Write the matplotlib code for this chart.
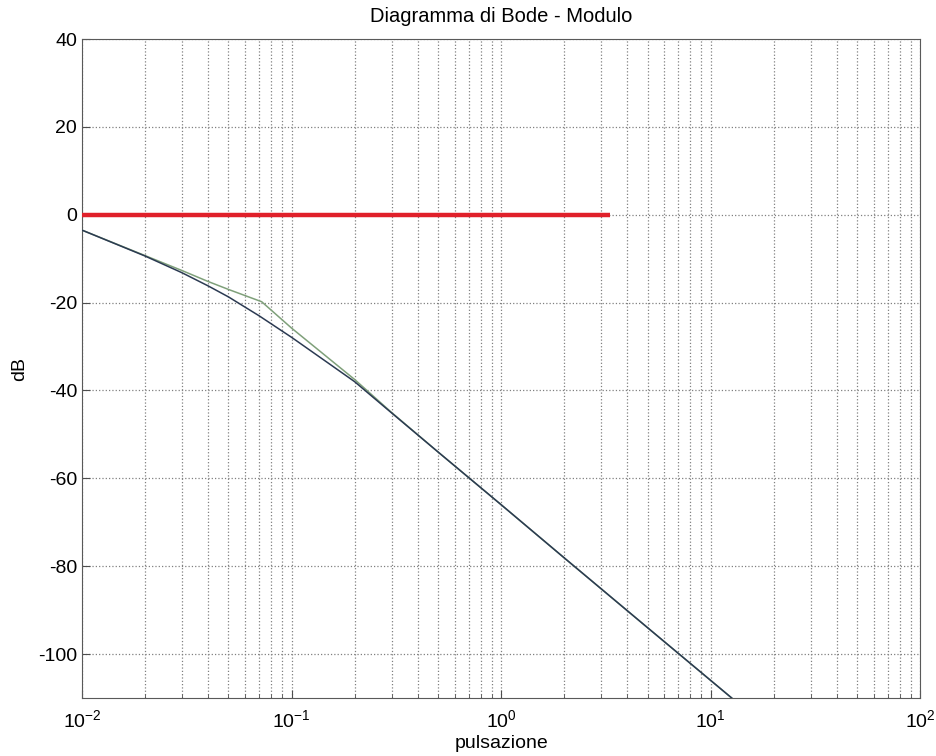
import numpy as np
import matplotlib
matplotlib.use('Agg')
import matplotlib.pyplot as plt
from matplotlib.ticker import LogLocator, NullFormatter

plt.rcParams['font.family'] = ['Liberation Sans', 'DejaVu Sans']
plt.rcParams['axes.unicode_minus'] = False

# Modulo reale (linea scura)
w_real = [0.01, 0.02, 0.03, 0.04, 0.05, 0.07, 0.1, 0.15, 0.2, 0.3, 0.5,
          1.0, 2.0, 5.0, 10.0, 12.6]
db_real = [-3.5, -9.4, -13.2, -16.2, -18.7, -23.0, -27.9, -33.8, -38.0, -45.1,
           -54.0, -66.0, -78.1, -94.0, -106.0, -110.0]

# Approssimazione (linea verde)
w_appr = [0.01, 0.02, 0.03, 0.04, 0.05, 0.072, 0.1, 0.2, 0.3, 0.5,
          1.0, 2.0, 5.0, 10.0, 12.6]
db_appr = [-3.5, -9.3, -12.7, -15.2, -17.0, -19.8, -25.8, -37.5, -45.0,
           -54.0, -66.0, -78.1, -94.0, -106.0, -110.0]

# Retta a 0 dB
w_zero = [0.01, 3.31]
db_zero = [0, 0]

fig = plt.figure(figsize=(9.36, 7.56), dpi=100)
ax = fig.add_axes([0.0876, 0.0767, 0.8956, 0.8717])

ax.semilogx(w_zero, db_zero, color='#e0202a', linewidth=3.2, solid_capstyle='butt', zorder=3)
ax.semilogx(w_appr, db_appr, color='#7fa07a', linewidth=1.1, zorder=4)
ax.semilogx(w_real, db_real, color='#2b3a52', linewidth=1.1, zorder=5)

ax.set_xlim(1e-2, 1e2)
ax.set_ylim(-110, 40)
ax.set_yticks([40, 20, 0, -20, -40, -60, -80, -100])
ax.xaxis.set_major_locator(LogLocator(base=10, numticks=10))
ax.xaxis.set_minor_locator(LogLocator(base=10, subs=np.arange(2, 10), numticks=20))
ax.xaxis.set_minor_formatter(NullFormatter())

ax.grid(True, which='major', linestyle=':', color='0.5', linewidth=0.9)
ax.grid(True, which='minor', axis='x', linestyle=':', color='0.5', linewidth=0.9)

ax.tick_params(which='both', direction='in', labelsize=14, color='0.3')
ax.tick_params(which='major', length=6)
ax.tick_params(which='minor', length=3)
ax.tick_params(axis='x', pad=8)
for s in ax.spines.values():
    s.set_color('0.35')

ax.set_title('Diagramma di Bode - Modulo', fontsize=14.5, pad=12)
ax.set_xlabel('pulsazione', fontsize=14, labelpad=3)
ax.set_ylabel('dB', fontsize=14, labelpad=7)

fig.savefig('out.png', dpi=100)
